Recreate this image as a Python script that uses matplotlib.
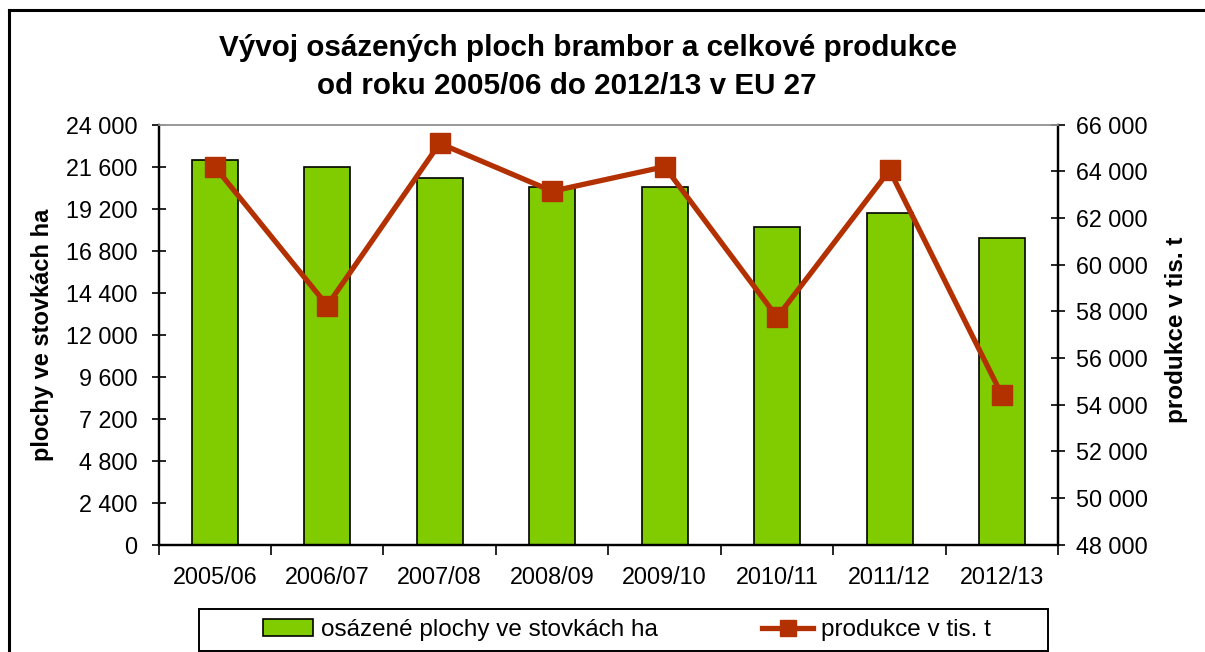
import matplotlib
matplotlib.use("Agg")
import matplotlib.pyplot as plt
from matplotlib.ticker import FuncFormatter, MultipleLocator, FixedLocator, NullFormatter
from matplotlib.lines import Line2D
from matplotlib.patches import Patch, Rectangle
import numpy as np

plt.rcParams['font.family'] = ['Liberation Sans', 'DejaVu Sans']

categories = ["2005/06", "2006/07", "2007/08", "2008/09", "2009/10", "2010/11", "2011/12", "2012/13"]
plochy = [22000, 21600, 20950, 20450, 20450, 18150, 18950, 17500]
produkce = [64200, 58250, 65200, 63150, 64200, 57750, 64050, 54400]

title1 = "Vývoj osázených ploch brambor a celkové produkce"
title2 = "od roku 2005/06 do 2012/13 v EU 27"
ylabel_left = "plochy ve stovkách ha"
ylabel_right = "produkce v tis. t"
legend_bar = "osázené plochy ve stovkách ha"
legend_line = "produkce v tis. t"

bar_color = "#80CC00"
line_color = "#B33000"

W, H = 1205, 652
fig = plt.figure(figsize=(W / 100, H / 100), dpi=100)

left, right, top, bottom = 158.5, 1058.3, 124.7, 544.7
ax = fig.add_axes([left / W, 1 - bottom / H, (right - left) / W, (bottom - top) / H])
ax2 = ax.twinx()

x = np.arange(len(categories))
ax.bar(x, plochy, width=0.41, color=bar_color, edgecolor="black", linewidth=1.2, zorder=2)
ax2.plot(x, produkce, color=line_color, linewidth=3.8, marker="s", markersize=15,
         markerfacecolor=line_color, markeredgecolor=line_color, zorder=3)

ax.set_xlim(-0.5, len(categories) - 0.5)
ax.set_ylim(0, 24000)
ax2.set_ylim(48000, 66000)

fmt = FuncFormatter(lambda v, p: f"{int(round(v)):,}".replace(",", " "))
ax.yaxis.set_major_locator(MultipleLocator(2400))
ax.yaxis.set_major_formatter(fmt)
ax2.yaxis.set_major_locator(MultipleLocator(2000))
ax2.yaxis.set_major_formatter(fmt)

ax.xaxis.set_major_locator(FixedLocator(np.arange(-0.5, len(categories), 1.0)))
ax.xaxis.set_major_formatter(NullFormatter())
ax.xaxis.set_minor_locator(FixedLocator(x))
ax.set_xticklabels(categories, minor=True)
ax.tick_params(axis="x", which="major", direction="out", length=7, width=1.2)
ax.tick_params(axis="x", which="minor", length=0, pad=15, labelsize=16.8)

ax.tick_params(axis="y", direction="inout", length=10, width=1.2, labelsize=16.8, pad=10)
ax2.tick_params(axis="y", direction="inout", length=10, width=1.2, labelsize=16.8, pad=8)

for a in (ax, ax2):
    a.spines["top"].set_color("#999999")
    a.spines["top"].set_linewidth(1.2)
    a.spines["left"].set_linewidth(1.6)
    a.spines["right"].set_linewidth(1.6)
    a.spines["bottom"].set_linewidth(1.6)
    a.patch.set_visible(False)

fig.text(43 / W, 1 - 335 / H, ylabel_left, rotation=90, ha="center", va="center",
         fontsize=17, fontweight="bold")
fig.text(1176 / W, 1 - 330 / H, ylabel_right, rotation=90, ha="center", va="center",
         fontsize=17.5, fontweight="bold")

fig.text(588 / W, 1 - 48 / H, title1, ha="center", va="center", fontsize=21.3, fontweight="bold")
fig.text(567 / W, 1 - 86 / H, title2, ha="center", va="center", fontsize=21.3, fontweight="bold")

# outer chart frame
fig.add_artist(Line2D([9 / W, 9 / W], [-0.01, 1 - 10 / H], transform=fig.transFigure,
                      color="black", linewidth=2.2))
fig.add_artist(Line2D([9 / W, 1.01], [1 - 10 / H, 1 - 10 / H], transform=fig.transFigure,
                      color="black", linewidth=2.2))

# legend frame
fig.add_artist(Rectangle((199 / W, 1 - 651 / H), (1048 - 199) / W, 42 / H,
                         transform=fig.transFigure, facecolor="white",
                         edgecolor="black", linewidth=1.4, zorder=1))

handles = [
    Patch(facecolor=bar_color, edgecolor="black", linewidth=1.2),
    Line2D([0], [0], color=line_color, linewidth=3.8, marker="s", markersize=11,
           markerfacecolor=line_color, markeredgecolor=line_color),
]
leg = fig.legend(handles, [legend_bar, legend_line], ncol=2,
                 bbox_to_anchor=(263 / W, 1 - 630 / H),
                 loc="center left", fontsize=17.5, frameon=False,
                 handlelength=2.06, handletextpad=0.33,
                 columnspacing=4.3, borderpad=0, borderaxespad=0)
leg.set_zorder(2)

fig.savefig("out.png", dpi=100)
